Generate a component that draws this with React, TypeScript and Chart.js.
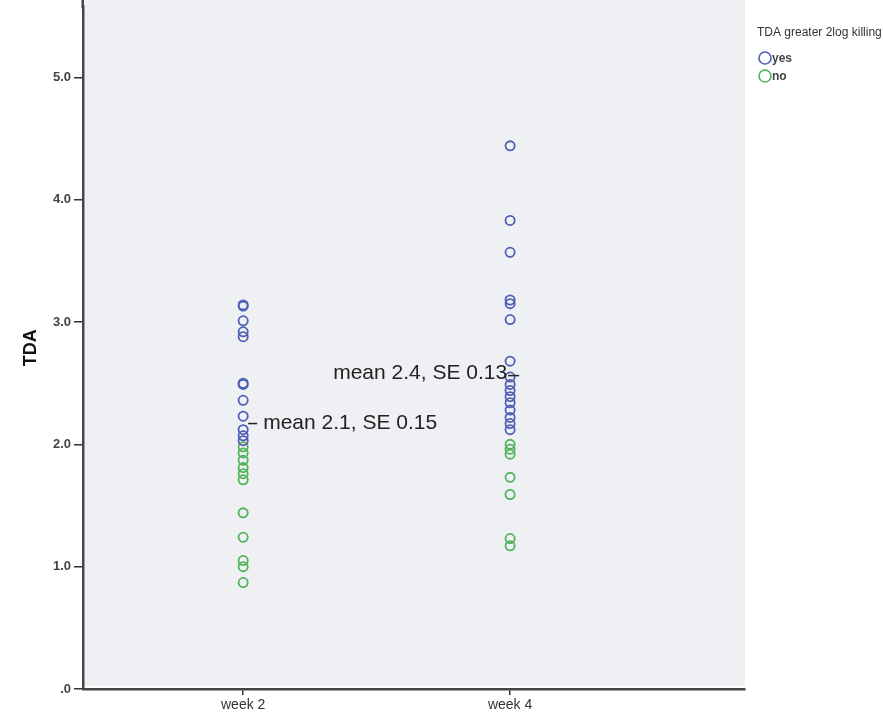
import React, { useEffect, useRef } from "react";
import { Chart, registerables } from "chart.js";

Chart.register(...registerables);

const categories = ["week 2", "week 4"];
const yesWeek2 = [3.14, 3.13, 3.01, 2.92, 2.88, 2.5, 2.49, 2.36, 2.23, 2.12, 2.07, 2.03];
const noWeek2 = [1.98, 1.93, 1.87, 1.81, 1.76, 1.71, 1.44, 1.24, 1.05, 1.0, 0.87];
const yesWeek4 = [4.44, 3.83, 3.57, 3.18, 3.15, 3.02, 2.68, 2.55, 2.49, 2.44, 2.39, 2.34, 2.28, 2.22, 2.17, 2.12];
const noWeek4 = [2.0, 1.96, 1.92, 1.73, 1.59, 1.23, 1.17];
const meanLabels = ["mean 2.1, SE 0.15", "mean 2.4, SE 0.13"];
const meanLabelY = [2.17, 2.57];
const yTicks = [0, 1, 2, 3, 4, 5];
const legendTitle = "TDA greater 2log killing";
const legendItems = ["yes", "no"];

const BLUE = "#4f5fb5";
const GREEN = "#52b45a";
const FONT = "'Liberation Sans', Arial, sans-serif";

const annotationPlugin = {
  id: "annot",
  beforeDraw(chart: any) {
    const { ctx, chartArea } = chart;
    ctx.save();
    ctx.fillStyle = "#eff0f3";
    ctx.fillRect(chartArea.left + 2, 0, chartArea.right - chartArea.left - 2, chartArea.bottom - 3);
    ctx.strokeStyle = "#444";
    ctx.lineWidth = 2.5;
    ctx.beginPath();
    ctx.moveTo(chartArea.left - 1.25 + 1, 0);
    ctx.lineTo(chartArea.left - 1.25 + 1, chartArea.top + 2);
    ctx.stroke();
    ctx.restore();
  },
  afterDraw(chart: any) {
    const { ctx } = chart;
    const xs = chart.scales.x;
    const ys = chart.scales.y;
    ctx.save();
    ctx.font = `21px ${FONT}`;
    ctx.fillStyle = "#222";
    ctx.strokeStyle = "#222";
    ctx.lineWidth = 1.5;
    ctx.textBaseline = "middle";
    meanLabels.forEach((label, i) => {
      const px = xs.getPixelForValue(i + 1);
      const py = ys.getPixelForValue(meanLabelY[i]);
      if (i === 0) {
        ctx.beginPath();
        ctx.moveTo(px + 5, py);
        ctx.lineTo(px + 14, py);
        ctx.stroke();
        ctx.textAlign = "left";
        ctx.fillText(label, px + 20, py);
      } else {
        ctx.beginPath();
        ctx.moveTo(px - 2, py + 1);
        ctx.lineTo(px + 9, py + 1);
        ctx.stroke();
        ctx.textAlign = "right";
        ctx.fillText(label, px - 3, py - 1);
      }
    });
    // legend
    ctx.textAlign = "left";
    ctx.font = `12px ${FONT}`;
    ctx.fillStyle = "#333";
    ctx.fillText(legendTitle, 757, 33);
    const colors = [BLUE, GREEN];
    ctx.font = `bold 12px ${FONT}`;
    legendItems.forEach((item, i) => {
      const cy = 58 + i * 18;
      ctx.beginPath();
      ctx.arc(765, cy, 6, 0, Math.PI * 2);
      ctx.strokeStyle = colors[i];
      ctx.lineWidth = 1.6;
      ctx.stroke();
      ctx.fillStyle = "#444";
      ctx.fillText(item, 772, cy + 1);
    });
    ctx.restore();
  },
};

export default function App() {
  const ref = useRef<HTMLCanvasElement>(null);
  useEffect(() => {
    if (!ref.current) return;
    const pts = (arr: number[], xi: number) => arr.map((v) => ({ x: xi + 1, y: v }));
    const chart = new Chart(ref.current, {
      type: "scatter",
      data: {
        datasets: [
          {
            label: "yes",
            data: [...pts(yesWeek2, 0), ...pts(yesWeek4, 1)],
            borderColor: BLUE,
            backgroundColor: "rgba(0,0,0,0)",
            pointRadius: 4.6,
            pointBorderWidth: 1.8,
          },
          {
            label: "no",
            data: [...pts(noWeek2, 0), ...pts(noWeek4, 1)],
            borderColor: GREEN,
            backgroundColor: "rgba(0,0,0,0)",
            pointRadius: 4.6,
            pointBorderWidth: 1.8,
          },
        ],
      },
      options: {
        animation: false,
        responsive: false,
        layout: { padding: { top: 0, right: 138, left: 0, bottom: 0 } },
        plugins: { legend: { display: false }, tooltip: { enabled: false } },
        scales: {
          x: {
            type: "linear",
            min: 0.4,
            max: 2.88,
            afterBuildTicks: (s: any) => {
              s.ticks = categories.map((_, i) => ({ value: i + 1 }));
            },
            afterFit: (s: any) => {
              s.height = 30;
              s.paddingLeft = 0;
              s.paddingRight = 0;
            },
            ticks: {
              callback: (v: any) => categories[Number(v) - 1] ?? "",
              font: { family: FONT, size: 14 },
              color: "#333",
              padding: 2,
              autoSkip: false,
              maxRotation: 0,
            },
            grid: { drawOnChartArea: false, drawTicks: true, tickLength: 6, color: "#333", lineWidth: 1.5 },
            border: { display: true, color: "#444", width: 2.5 },
          },
          y: {
            type: "linear",
            min: 0,
            max: 5.58,
            afterBuildTicks: (s: any) => {
              s.ticks = yTicks.map((v) => ({ value: v }));
            },
            afterFit: (s: any) => {
              s.width = 83;
              s.paddingTop = 0;
              s.paddingBottom = 0;
            },
            ticks: {
              callback: (v: any) => (Number(v) === 0 ? ".0" : Number(v).toFixed(1)),
              font: { family: FONT, size: 13, weight: "bold" },
              color: "#444",
              padding: 3,
            },
            grid: { drawOnChartArea: false, drawTicks: true, tickLength: 9, color: "#333", lineWidth: 1.5 },
            border: { display: true, color: "#444", width: 2.5 },
            title: {
              display: true,
              text: "TDA",
              font: { family: FONT, size: 18, weight: "bold" },
              color: "#111",
              padding: { top: 20, bottom: 0 },
            },
          },
        },
      },
      plugins: [annotationPlugin],
    });
    return () => chart.destroy();
  }, []);
  return (
    <div style={{ position: "fixed", left: 0, top: 0, width: 883, height: 719, background: "#fff" }}>
      <canvas ref={ref} width={883} height={719} style={{ display: "block" }} />
    </div>
  );
}
